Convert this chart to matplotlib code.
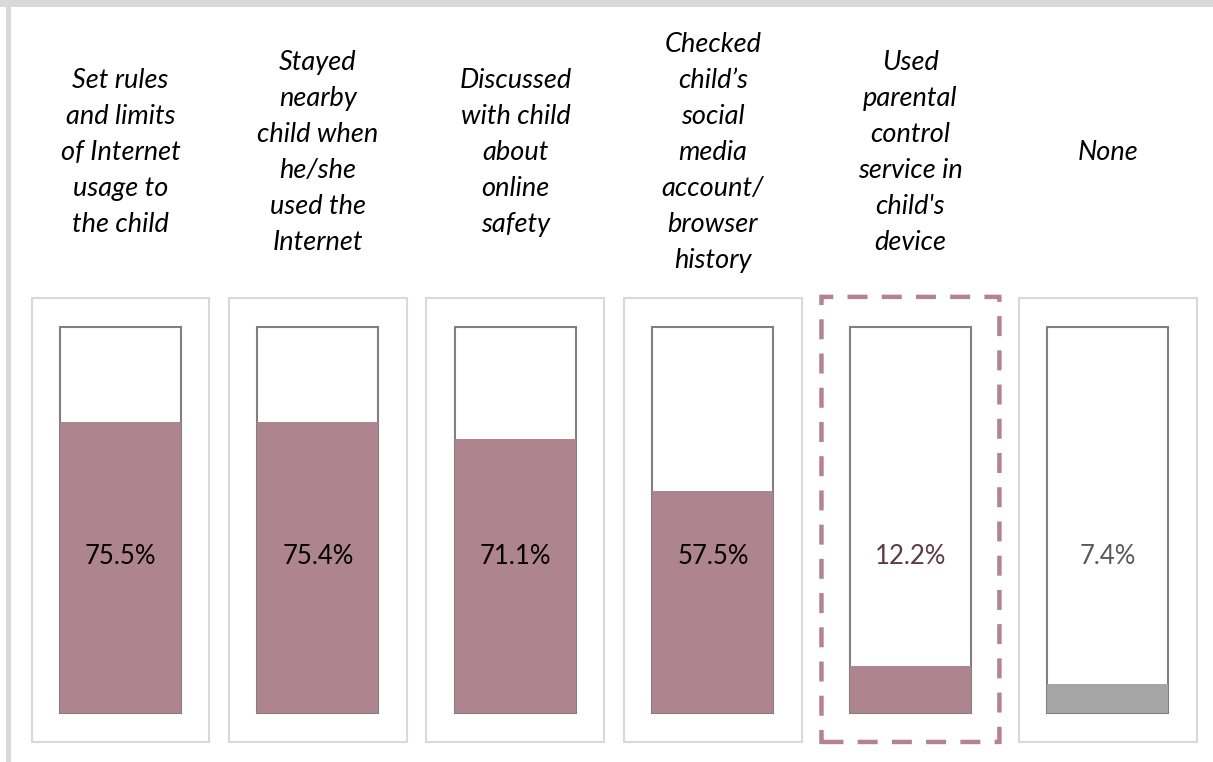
import numpy as np
import matplotlib
matplotlib.use("Agg")
import matplotlib.pyplot as plt
from matplotlib.patches import Rectangle, FancyBboxPatch

labels = [
    "Set rules\nand limits\nof Internet\nusage to\nthe child",
    "Stayed\nnearby\nchild when\nhe/she\nused the\nInternet",
    "Discussed\nwith child\nabout\nonline\nsafety",
    "Checked\nchild\u2019s\nsocial\nmedia\naccount/\nbrowser\nhistory",
    "Used\nparental\ncontrol\nservice in\nchild's\ndevice",
    "None",
]
values = [75.5, 75.4, 71.1, 57.5, 12.2, 7.4]
value_labels = ["75.5%", "75.4%", "71.1%", "57.5%", "12.2%", "7.4%"]

fill_colors = ["#ae848e"] * 5 + ["#a5a5a5"]
text_colors = ["#000000"] * 4 + ["#5c3a45", "#595959"]
highlight = 4

fig = plt.figure(figsize=(12.13, 7.62), dpi=100)
ax = fig.add_axes([0, 0, 1, 1])
ax.set_xlim(-0.610, 5.532)
ax.set_ylim(-12.69, 184.7)
ax.axis("off")

# grey frame on top and left edge
fig.patches.append(Rectangle((0, 1 - 7 / 762), 1, 7 / 762, transform=fig.transFigure,
                             facecolor="#d9d9d9", edgecolor="none", zorder=0))
fig.patches.append(Rectangle((6 / 1213, 0), 5 / 1213, 1, transform=fig.transFigure,
                             facecolor="#d9d9d9", edgecolor="none", zorder=0))

x = np.arange(len(values))
inner_w = 0.613
outer_w = 0.901

for i in x:
    # outer light box
    if i != highlight:
        ax.add_patch(Rectangle((i - outer_w / 2, -7.5), outer_w, 115.0,
                               facecolor="white", edgecolor="#d9d9d9", lw=1.5, zorder=1))
    else:
        ax.add_patch(FancyBboxPatch((i - outer_w / 2, -7.5), outer_w, 115.3,
                                    boxstyle="round,pad=0,rounding_size=0.01",
                                    facecolor="white", edgecolor="#b5838f", lw=3.2,
                                    linestyle=(0, (4.5, 3.2)), zorder=1))

# empty container + filled part
ax.bar(x, [100] * len(x), width=inner_w, bottom=0, facecolor="white",
       edgecolor="#808080", lw=1.5, zorder=2)
ax.bar(x, values, width=inner_w, bottom=0, color=fill_colors, edgecolor="none", zorder=3)

for i in x:
    ax.text(i, 40.5, value_labels[i], ha="center", va="center", fontsize=18.5,
            color=text_colors[i], family="Lato", zorder=4)
    ax.text(i, 145.3, labels[i], ha="center", va="center", fontsize=19.5,
            style="italic", family="Lato", linespacing=1.55, zorder=4)

fig.savefig("out.png", dpi=100)
